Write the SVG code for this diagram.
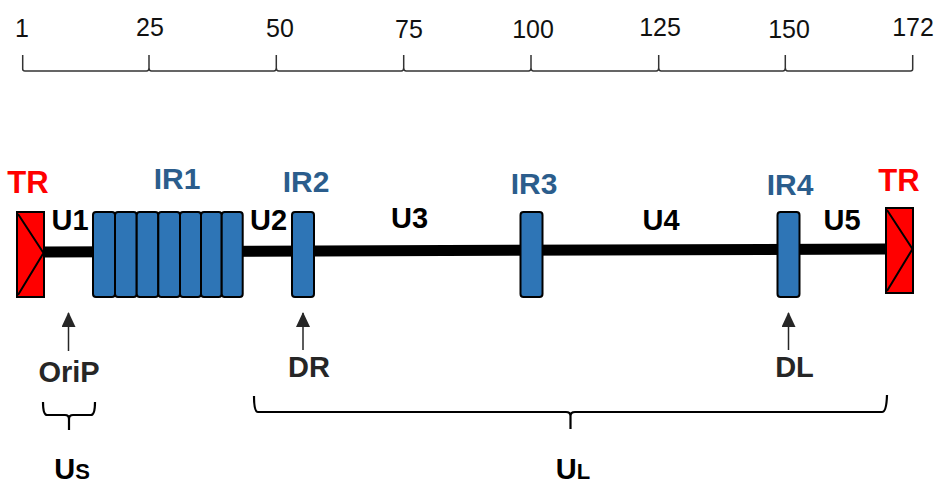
<svg xmlns="http://www.w3.org/2000/svg" width="941" height="485" viewBox="0 0 941 485">
<style>
.tick{font-family:"Liberation Sans",Arial,sans-serif;font-size:25px;fill:#111;text-anchor:middle}
.b{font-family:"Liberation Sans",Arial,sans-serif;font-weight:bold;text-anchor:middle}
.tr{fill:#ff0000;font-size:31px}
.ir{fill:#2b5d8c;font-size:30px}
.u{fill:#000;font-size:29px}
.g{fill:#262626;font-size:29px}
.box{fill:#2e75b6;stroke:#000;stroke-width:2}
.trbox{fill:#ff0000;stroke:#000;stroke-width:2}
.scale{fill:none;stroke:#333;stroke-width:1.5}
.arr{stroke:#262626;stroke-width:1.5;fill:none}
.brace{fill:none;stroke:#000;stroke-width:2.2}
</style>
<defs>
<marker id="ah" markerWidth="15" markerHeight="14" refX="14" refY="7" orient="auto" markerUnits="userSpaceOnUse" viewBox="0 0 15 14">
<path d="M0,0 L15,7 L0,14 Z" fill="#262626"/>
</marker>
</defs>
<g id="scale">
<path class="scale" d="M22.7,55 V69 Q22.7,71 25,71 H146.5 Q149,71 149,68 V55 M149,68 Q149,71 151.5,71 H273.8 Q276.3,71 276.3,68 V55 M276.3,68 Q276.3,71 278.8,71 H401.2 Q403.7,71 403.7,68 V55 M403.7,68 Q403.7,71 406.2,71 H528.5 Q531,71 531,68 V55 M531,68 Q531,71 533.5,71 H656.2 Q658.7,71 658.7,68 V55 M658.7,68 Q658.7,71 661.2,71 H782.8 Q785.3,71 785.3,68 V55 M785.3,68 Q785.3,71 787.8,71 H910.5 Q912.7,71 912.7,69 V55"/>
<text class="tick" x="22" y="37">1</text>
<text class="tick" x="150" y="36">25</text>
<text class="tick" x="280" y="37">50</text>
<text class="tick" x="409" y="38">75</text>
<text class="tick" x="533" y="38">100</text>
<text class="tick" x="660" y="36">125</text>
<text class="tick" x="789" y="38">150</text>
<text class="tick" x="913" y="36">172</text>
</g>
<g id="connectors">
<line x1="44" y1="252" x2="887" y2="249" stroke="#000" stroke-width="11"/>
<line class="arr" x1="68.5" y1="351" x2="68.5" y2="313" marker-end="url(#ah)"/>
<line class="arr" x1="303" y1="350" x2="303" y2="313" marker-end="url(#ah)"/>
<line class="arr" x1="788.5" y1="350" x2="788.5" y2="313" marker-end="url(#ah)"/>
</g>
<g id="TR-left">
<rect class="trbox" x="17" y="212" width="27" height="85"/>
<path d="M18,214 L43.5,253 L18,295" fill="none" stroke="#000" stroke-width="2"/>
<text class="b tr" x="28" y="193">TR</text>
</g>
<g id="TR-right">
<rect class="trbox" x="886" y="208" width="27" height="85"/>
<path d="M887,210 L912.5,249 L887,291" fill="none" stroke="#000" stroke-width="2"/>
<text class="b tr" x="899" y="191">TR</text>
</g>
<g id="IR1">
<rect class="box" x="93" y="212" width="22" height="85" rx="3"/>
<rect class="box" x="115" y="212" width="21.7" height="85" rx="3"/>
<rect class="box" x="136.7" y="212" width="21.6" height="85" rx="3"/>
<rect class="box" x="158.3" y="212" width="21.7" height="85" rx="3"/>
<rect class="box" x="180" y="212" width="21" height="85" rx="3"/>
<rect class="box" x="201" y="212" width="20.7" height="85" rx="3"/>
<rect class="box" x="221.7" y="212" width="21" height="85" rx="3"/>
<text class="b ir" x="177" y="189">IR1</text>
</g>
<g id="IR2">
<rect class="box" x="292" y="212" width="22" height="85" rx="3"/>
<text class="b ir" x="306" y="192">IR2</text>
</g>
<g id="IR3">
<rect class="box" x="520.5" y="212" width="22" height="85" rx="3"/>
<text class="b ir" x="534" y="194">IR3</text>
</g>
<g id="IR4">
<rect class="box" x="777.5" y="212" width="22" height="85" rx="3"/>
<text class="b ir" x="790" y="195">IR4</text>
</g>
<g id="U-labels">
<text class="b u" x="70" y="230">U1</text>
<text class="b u" x="268.5" y="230">U2</text>
<text class="b u" x="409.5" y="228">U3</text>
<text class="b u" x="661" y="230">U4</text>
<text class="b u" x="842" y="230">U5</text>
</g>
<g id="OriP">
<text class="b g" x="69" y="382" font-size="30">OriP</text>
</g>
<g id="DR">
<text class="b g" x="309" y="377">DR</text>
</g>
<g id="DL">
<text class="b g" x="794.5" y="377">DL</text>
</g>
<g id="US">
<path class="brace" d="M43,402 Q43,415 47,415 H65 Q69,415 69,419 V430 M69,419 Q69,415 73,415 H91 Q95,415 95,402"/>
<text class="b u" x="72" y="479">U<tspan font-size="22">S</tspan></text>
</g>
<g id="UL">
<path class="brace" d="M254,396 Q254,412 258,412 H566 Q570.5,412 570.5,416 V429 M570.5,416 Q570.5,412 575,412 H882 Q886.5,412 887,395"/>
<text class="b u" x="573" y="479">U<tspan font-size="22">L</tspan></text>
</g>
</svg>
